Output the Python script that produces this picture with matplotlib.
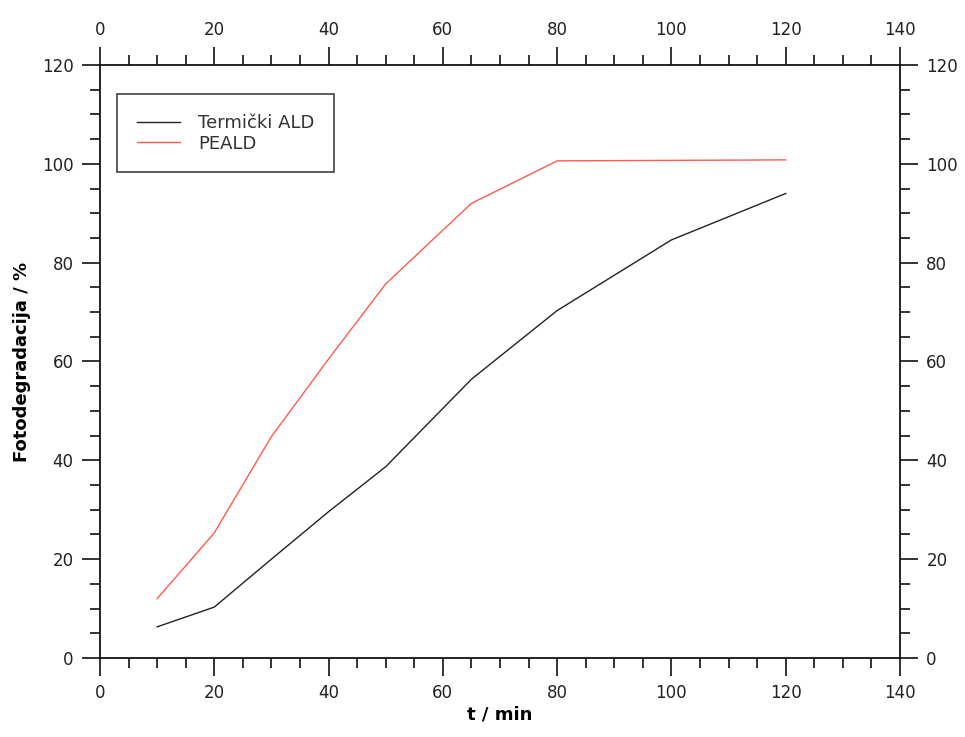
import matplotlib
matplotlib.use("Agg")
import matplotlib.pyplot as plt
from matplotlib.ticker import MultipleLocator

# data
t_ald = [10, 20, 30, 40, 50, 65, 80, 100, 120]
ald = [6.3, 10.3, 20.0, 29.6, 38.7, 56.4, 70.3, 84.6, 94.0]
t_peald = [10, 20, 30, 40, 50, 65, 80, 120]
peald = [12.0, 25.3, 44.8, 60.5, 75.7, 92.0, 100.6, 100.8]

plt.rcParams['font.family'] = ['DejaVu Sans']

fig = plt.figure(figsize=(9.65, 7.37), dpi=100)
ax = fig.add_axes([0.1036, 0.1072, 0.8290, 0.8046])

ax.plot(t_ald, ald, color='#222222', lw=1.0, label='Termički ALD')
ax.plot(t_peald, peald, color='#ff5a50', lw=1.0, label='PEALD')

ax.set_xlim(0, 140)
ax.set_ylim(0, 120)
ax.xaxis.set_major_locator(MultipleLocator(20))
ax.xaxis.set_minor_locator(MultipleLocator(5))
ax.yaxis.set_major_locator(MultipleLocator(20))
ax.yaxis.set_minor_locator(MultipleLocator(5))

for s in ax.spines.values():
    s.set_linewidth(1.3)
    s.set_color('#111111')

ax.tick_params(which='both', direction='out', top=True, right=True,
               labeltop=True, labelright=True, color='#111111', width=1.2,
               labelsize=12, labelcolor='#222222')
ax.tick_params(which='major', length=13, pad=6)
ax.tick_params(which='minor', length=7)

ax.set_xlabel('t / min', fontsize=13, fontweight='bold', labelpad=2)
ax.set_ylabel('Fotodegradacija / %', fontsize=13, fontweight='bold', labelpad=8)

leg = ax.legend(loc='upper left', bbox_to_anchor=(0.021, 0.951), fontsize=13,
                frameon=True, fancybox=False, handlelength=2.4,
                borderpad=1.1, labelspacing=0.15, handletextpad=1.0,
                borderaxespad=0)
leg.get_frame().set_edgecolor('#111111')
leg.get_frame().set_linewidth(1.2)
leg.get_frame().set_boxstyle('square', pad=0)
for txt in leg.get_texts():
    txt.set_color('#333333')

fig.savefig('out.png', dpi=100)
